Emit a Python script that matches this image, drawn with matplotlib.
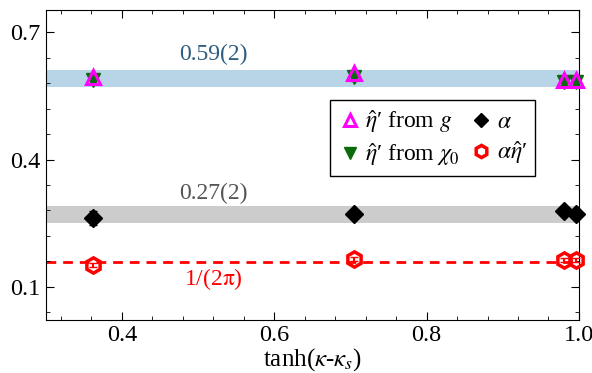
import numpy as np
import matplotlib
matplotlib.use("Agg")
import matplotlib.pyplot as plt
from matplotlib.ticker import MultipleLocator

plt.rcParams['font.family'] = ['Liberation Serif', 'DejaVu Serif']
plt.rcParams['mathtext.fontset'] = 'stix'

# data
x = [0.362, 0.705, 0.980, 0.996]
eta_g = [0.594, 0.603, 0.588, 0.588]
eta_chi = [0.588, 0.594, 0.582, 0.582]
eta_chi_err = [0.008, 0.010, 0.006, 0.006]
alpha = [0.262, 0.271, 0.278, 0.272]
alpha_err = [0.016, 0.008, 0.008, 0.008]
alpha_eta = [0.152, 0.165, 0.164, 0.164]
alpha_eta_err = [0.005, 0.005, 0.005, 0.005]

band_eta, band_eta_err = 0.59, 0.02
band_alpha, band_alpha_err = 0.27, 0.02
inv2pi = 1/(2*np.pi)

fig = plt.figure(figsize=(5.92, 3.73), dpi=100)
ax = fig.add_axes([0.077, 0.142, 0.901, 0.831])

ax.axhspan(band_eta-band_eta_err, band_eta+band_eta_err, color='#b8d5e7', lw=0, zorder=0)
ax.axhspan(band_alpha-band_alpha_err, band_alpha+band_alpha_err, color='#cccccc', lw=0, zorder=0)
ax.axhline(inv2pi, color='red', ls=(0, (3.5, 2.5)), lw=2, zorder=1)

eb = dict(fmt='none', capsize=3, lw=1.5, clip_on=False, zorder=3)
ax.errorbar(x, eta_chi, yerr=eta_chi_err, ecolor='#0b6a0b', **eb)
ax.errorbar(x, alpha, yerr=alpha_err, ecolor='black', **eb)
ax.errorbar(x, alpha_eta, yerr=alpha_eta_err, ecolor='red', **eb)

l_chi, = ax.plot(x, eta_chi, 'v', color='#0b6a0b', ms=10, ls='none', clip_on=False, zorder=3)
l_g, = ax.plot(x, eta_g, '^', mec='magenta', mfc='none', mew=2.2, ms=10, ls='none',
               clip_on=False, zorder=4)
l_a, = ax.plot(x, alpha, 'D', color='black', ms=9, ls='none', clip_on=False, zorder=3)
l_ae, = ax.plot(x, alpha_eta, 'h', mec='red', mfc='none', mew=2.5, ms=11, ls='none',
                clip_on=False, zorder=3)

ax.text(0.52, 0.623, "0.59(2)", color='#2d5d80', fontsize=17, ha='center', va='bottom')
ax.text(0.52, 0.296, "0.27(2)", color='#555555', fontsize=17, ha='center', va='bottom')
ax.text(0.52, 0.150, r"1/(2$\mathrm{\pi}$)", color='red', fontsize=17, ha='center', va='top')

ax.set_xlim(0.3, 1.0)
ax.set_ylim(0.022, 0.752)
ax.xaxis.set_major_locator(MultipleLocator(0.2))
ax.xaxis.set_minor_locator(MultipleLocator(0.04))
ax.yaxis.set_major_locator(MultipleLocator(0.3, offset=0.1))
ax.yaxis.set_minor_locator(MultipleLocator(0.06, offset=0.04))
ax.tick_params(which='both', direction='in', top=True, right=True, labelsize=17.5)
ax.tick_params(which='major', length=6)
ax.tick_params(which='minor', length=3)
ax.set_xlabel(r"tanh($\kappa$-$\kappa_s$)", fontsize=18, labelpad=0)

ax.legend([l_g, l_chi, l_a, l_ae],
          [r"$\hat{\eta}$′ from $g$", r"$\hat{\eta}$′ from $\chi_0$",
           r"$\alpha$", r"$\alpha\hat{\eta}$′"],
          ncol=2, loc='upper left', bbox_to_anchor=(0.533, 0.71), fontsize=17,
          frameon=True, fancybox=False, edgecolor='black', framealpha=1,
          handletextpad=0.15, columnspacing=0.4, borderpad=0.35, labelspacing=0.25,
          handlelength=1.0, borderaxespad=0, markerscale=0.8)

fig.savefig("out.png", dpi=100)
